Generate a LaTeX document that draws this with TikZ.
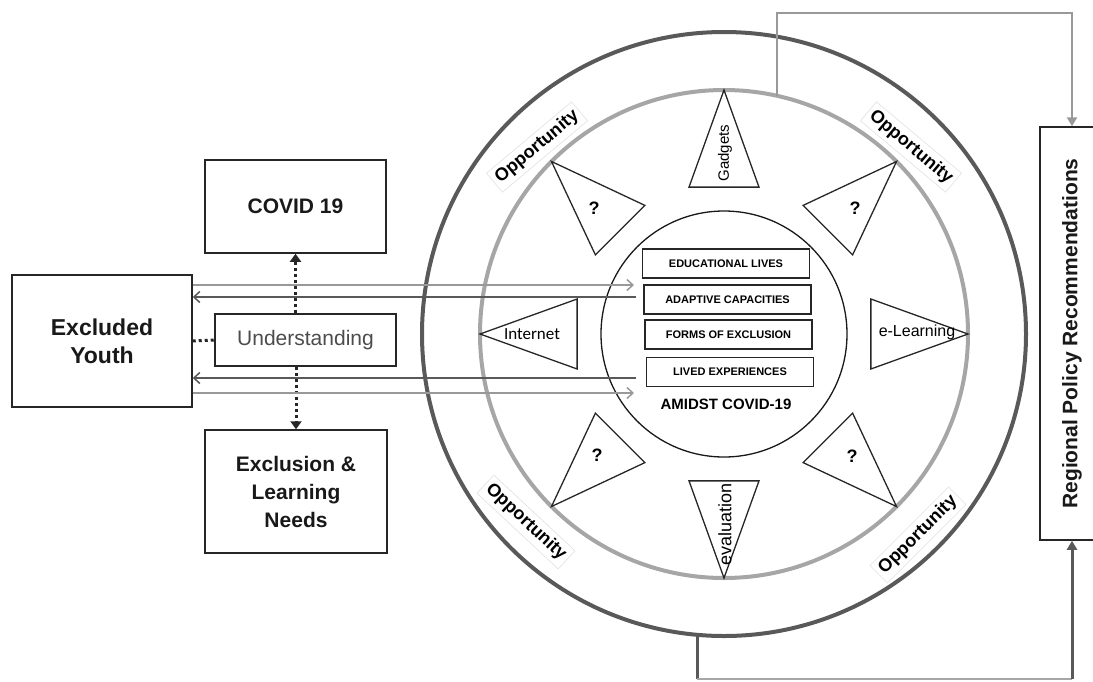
\documentclass[tikz,border=0pt]{standalone}
\usepackage{fontspec}
\setmainfont{Liberation Sans}
\newfontfamily\calib{Carlito}
\usetikzlibrary{arrows.meta,calc}
\newcommand{\fs}[1]{\fontsize{#1}{#1}\selectfont}
\tikzset{
	box/.style={draw=black!85,line width=1.5pt,align=center,font=\fontsize{21}{28}\selectfont\bfseries,text=black!90},
	ibox/.style={draw=black!85,line width=1.5pt,minimum width=167pt,minimum height=29pt,inner sep=0pt,font=\fontsize{11}{13}\selectfont\bfseries},
	opp/.style={draw=black!12,line width=0.6pt,inner sep=4pt,font=\fontsize{18}{20}\selectfont\bfseries},
	tri/.style={draw=black!85,line width=1.3pt},
	dots/.style={black!85,line width=3pt,dash pattern=on 3pt off 3pt},
	lgt/.style={black!40,line width=1.5pt,-{Straight Barb[length=6pt,width=11pt]}},
	drk/.style={black!65,line width=1.5pt,-{Straight Barb[length=6pt,width=11pt]}},
}
\begin{document}
\begin{tikzpicture}[x=1pt,y=-1pt]
	\useasboundingbox (0,0) rectangle (1093,681);
	%	\draw[gray!20] (0,0) grid[step=50] (1093,681);
	\coordinate (c) at (724,334);
	% rings
	\draw[black!65,line width=4pt] (c) circle (302pt);
	\draw[black!35,line width=4pt] (c) circle (244pt);
	\draw[black!90,line width=1.3pt] (c) circle (123pt);
	% triangles on the gray ring
	\foreach \a in {0,45,...,315}
	\draw[tri] ($(c)+(\a:244)$) -- ($(c)+(\a+13.4:151)$) -- ($(c)+(\a-13.4:151)$) -- cycle;
	\path (725,153)node[rotate=90,font=\fs{15}](gad){Gadgets}
	(725,524)node[rotate=90,font=\fs{18}](eval){evaluation}
	(532,334)node[font=\calib\fs{17}](inet){Internet}
	(917,332)node[font=\fs{16}](elrn){e-Learning}
	(594,208)node[font=\fs{18}\bfseries](q1){?}
	(855,208)node[font=\fs{18}\bfseries](q2){?}
	(597,455)node[font=\fs{18}\bfseries](q3){?}
	(852,456)node[font=\fs{18}\bfseries](q4){?};
	% centre
	\node[ibox] (edu) at (726,263.5) {EDUCATIONAL LIVES};
	\node[ibox] (ada) at (727.5,299.5) {ADAPTIVE CAPACITIES};
	\node[ibox] (frm) at (728.5,334.5) {FORMS OF EXCLUSION};
	\node[ibox] (liv) at (730,372) {LIVED EXPERIENCES};
	\node[font=\fs{15}\bfseries] (amid) at (726,404) {AMIDST COVID-19};
	% opportunities
	\node[opp,rotate=40] (o1) at (537,147) {Opportunity};
	\node[opp,rotate=-40] (o2) at (911,147) {Opportunity};
	\node[opp,rotate=-43] (o3) at (526,522) {Opportunity};
	\node[opp,rotate=45] (o4) at (918,535) {Opportunity};
	% left side
	\node[box,font=\fontsize{23}{28}\selectfont\bfseries,minimum width=180pt,minimum height=132pt] (ey) at (102,341) {Excluded\\Youth};
	\node[box,minimum width=181pt,minimum height=93pt] (cv) at (295.5,206.5) {COVID 19};
	\node[box,minimum width=182pt,minimum height=123pt] (ex) at (296,491.5) {Exclusion \&\\Learning\\Needs};
	\node[draw=black!85,line width=1.5pt,minimum width=181pt,minimum height=52pt,font=\fs{21},text=black!70] (und) at (305.5,340) {Understanding};
	\draw[dots] (ey.east) -- (und.west);
	\draw[dots,-{Triangle[length=8pt,width=11pt]}] (cv.south |- und.north) -- (cv.south);
	\draw[dots,-{Triangle[length=8pt,width=11pt]}] (ex.north |- und.south) -- (ex.north);
	\coordinate (a1) at (634,285); \coordinate (a2) at (636,297);
	\coordinate (a3) at (636,378); \coordinate (a4) at (634,393);
	\draw[lgt] (ey.east |- a1) -- (a1);
	\draw[drk] (a2) -- (ey.east |- a2);
	\draw[drk] (a3) -- (ey.east |- a3);
	\draw[lgt] (ey.east |- a4) -- (a4);
	% right side
	\node[box,rotate=90,minimum width=413pt,minimum height=64pt] (reg) at (1072,333.5) {Regional Policy Recommendations};
	\coordinate (gtop) at ($(c)+(-77.4:244)$);
	\coordinate (obot) at ($(c)+(95.1:302)$);
	\draw[black!40,line width=2.5pt,-{Triangle[length=9pt,width=10pt]}] (gtop) |- (1072,13) -- (reg.east);
	\draw[black!65,line width=3pt] (obot) -- (obot |- 0,679);
	\draw[black!35,line width=2pt] (obot |- 0,679) -- (1072,679);
	\draw[black!65,line width=3pt,-{Triangle[length=9pt,width=10pt]}] (1072,679) -- (reg.west);
\end{tikzpicture}
\end{document}
